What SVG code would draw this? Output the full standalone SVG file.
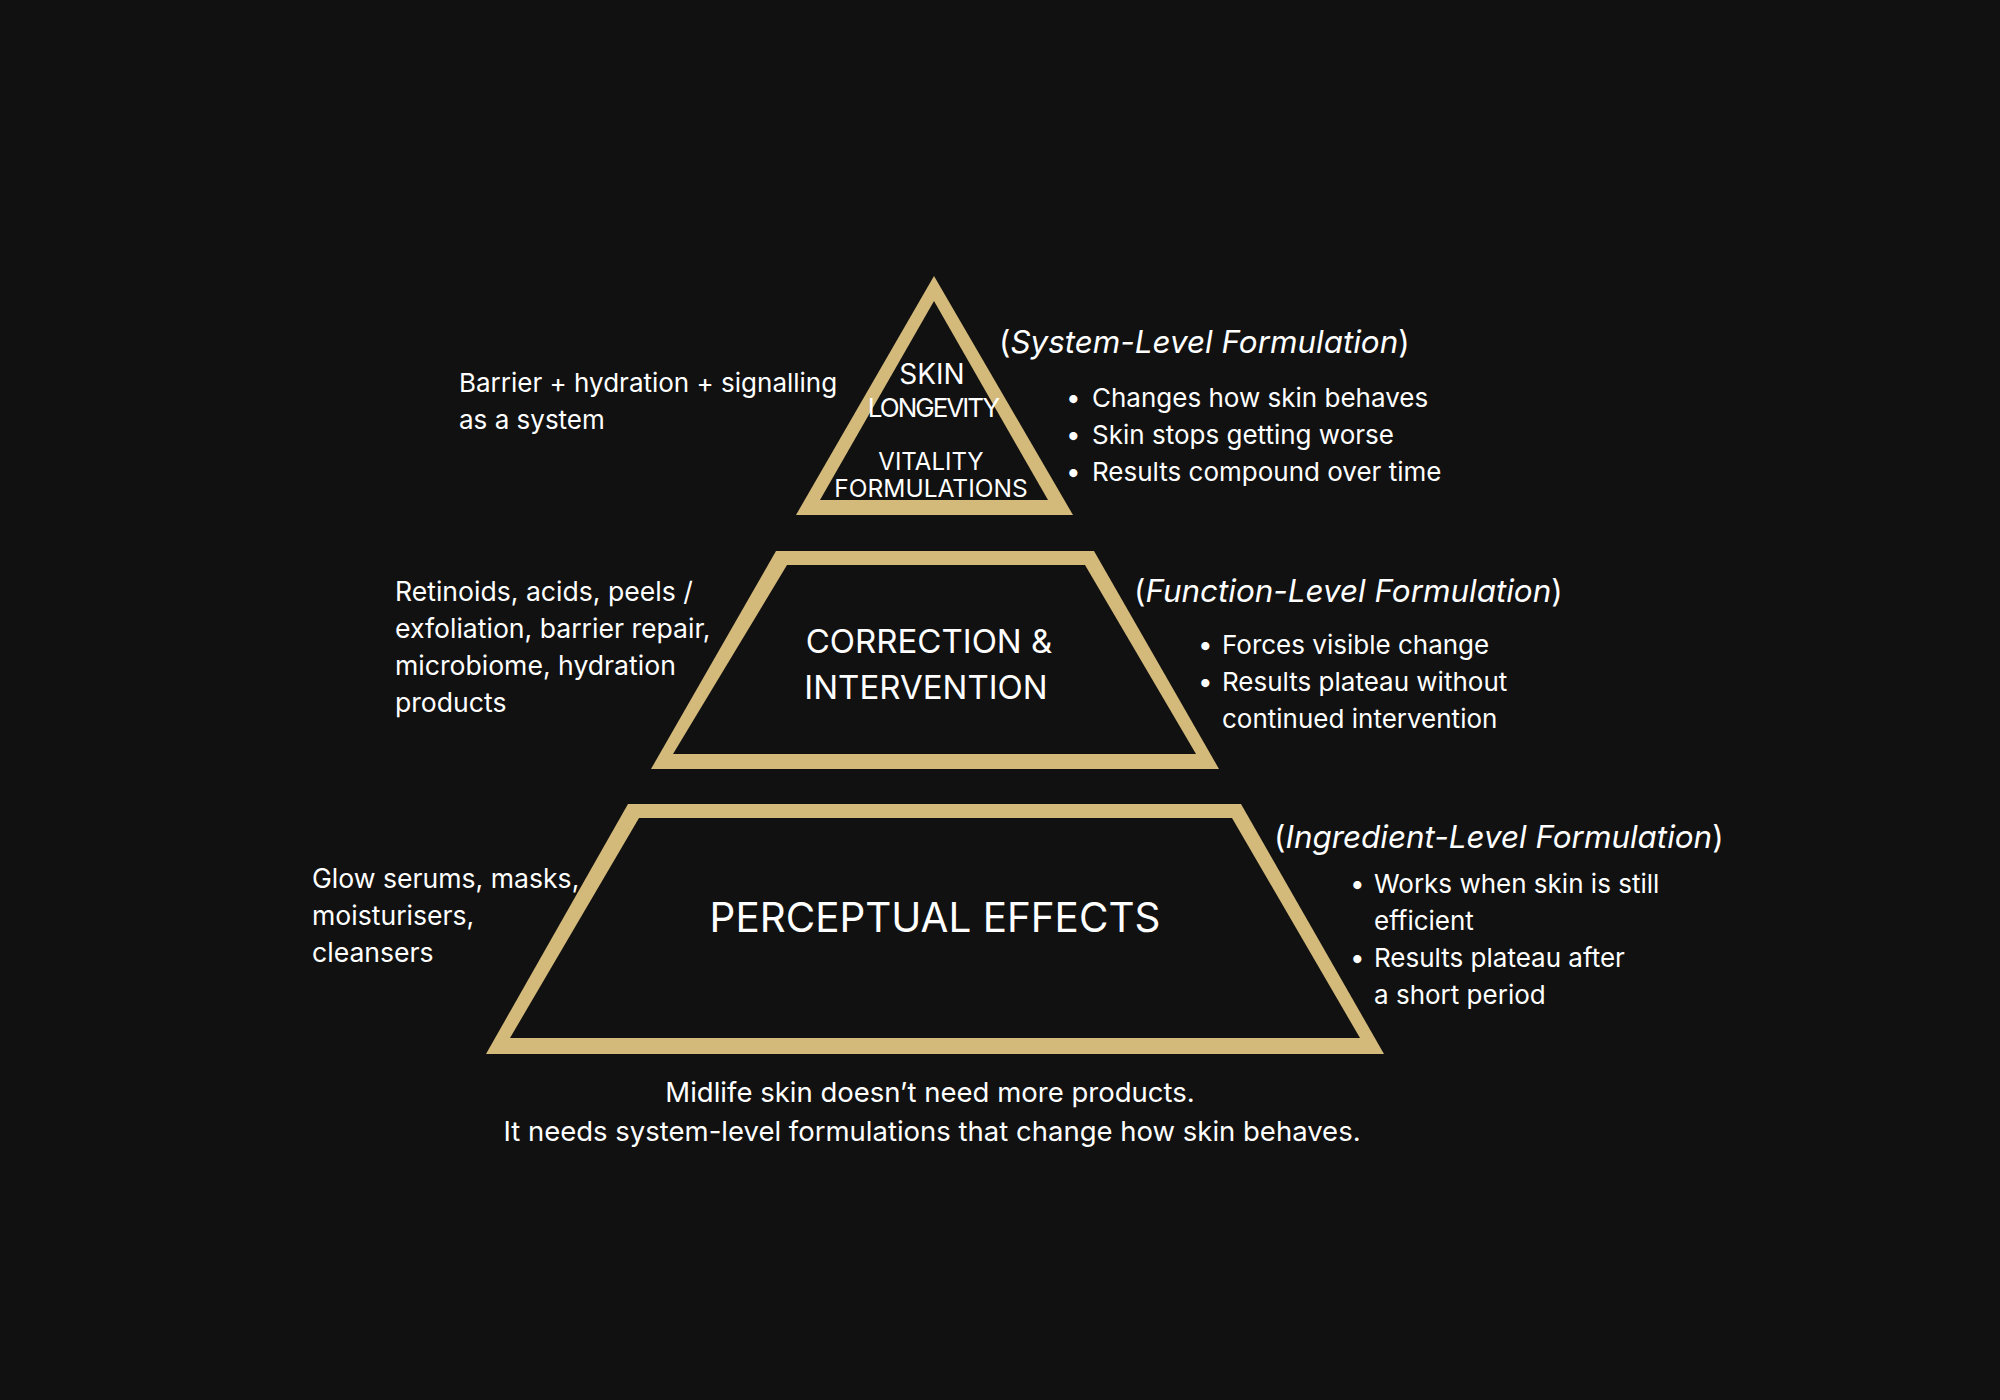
<svg xmlns="http://www.w3.org/2000/svg" width="2000" height="1400" viewBox="0 0 2000 1400">
<style>
.t{font-family:Inter,"Noto Sans","Liberation Sans",sans-serif;fill:#ffffff;}
.side{font-size:26px;}
.left{font-size:26.6px;}
.cap{font-size:27.5px;}
.head{font-size:31.4px;}
.it{font-style:italic;}
.gold{fill:#D4BA7A;}
.inner{fill:#111111;}
</style>
<rect width="2000" height="1400" fill="#111111"/>
<g id="tier-top">
<polygon class="gold" points="934,276 796,515 1073,515"/>
<polygon class="inner" points="934,301 820,500 1048,500"/>
<text class="t" x="932" y="384" font-size="28" text-anchor="middle">SKIN</text>
<text class="t" x="933" y="417" font-size="26" text-anchor="middle" letter-spacing="-2">LONGEVITY</text>
<text class="t" x="931" y="470" font-size="24" text-anchor="middle">VITALITY</text>
<text class="t" x="931" y="497" font-size="24.5" text-anchor="middle">FORMULATIONS</text>
</g>
<g id="tier-middle">
<polygon class="gold" points="776,551 1094,551 1219,769 651,769"/>
<polygon class="inner" points="787,565 1085,565 1196,754 673,754"/>
<text class="t" x="929" y="653" font-size="33" text-anchor="middle">CORRECTION &amp;</text>
<text class="t" x="926" y="699" font-size="33" text-anchor="middle">INTERVENTION</text>
</g>
<g id="tier-bottom">
<polygon class="gold" points="628,804 1241,804 1384,1054 486,1054"/>
<polygon class="inner" points="639,818 1232,818 1360,1038 510,1038"/>
<text class="t" x="935" y="932" font-size="40.4" text-anchor="middle">PERCEPTUAL EFFECTS</text>
</g>
<g id="label-top">
<text class="t head" x="999" y="353">(<tspan class="it">System-Level Formulation</tspan>)</text>
<text class="t side" x="1066" y="407">•</text>
<text class="t side" x="1092" y="407">Changes how skin behaves</text>
<text class="t side" x="1066" y="444">•</text>
<text class="t side" x="1092" y="444">Skin stops getting worse</text>
<text class="t side" x="1066" y="481">•</text>
<text class="t side" x="1092" y="481">Results compound over time</text>
<text class="t side" x="459" y="392">Barrier + hydration + signalling</text>
<text class="t side" x="459" y="429">as a system</text>
</g>
<g id="label-middle">
<text class="t head" x="1134" y="602">(<tspan class="it">Function-Level Formulation</tspan>)</text>
<text class="t side" x="1198" y="654">•</text>
<text class="t side" x="1222" y="654">Forces visible change</text>
<text class="t side" x="1198" y="691">•</text>
<text class="t side" x="1222" y="691">Results plateau without</text>
<text class="t side" x="1222" y="728">continued intervention</text>
<text class="t left" x="395" y="601">Retinoids, acids, peels /</text>
<text class="t left" x="395" y="638">exfoliation, barrier repair,</text>
<text class="t left" x="395" y="675">microbiome, hydration</text>
<text class="t left" x="395" y="712">products</text>
</g>
<g id="label-bottom">
<text class="t head" x="1274" y="848">(<tspan class="it">Ingredient-Level Formulation</tspan>)</text>
<text class="t side" x="1350" y="893">•</text>
<text class="t side" x="1374" y="893">Works when skin is still</text>
<text class="t side" x="1374" y="930">efficient</text>
<text class="t side" x="1350" y="967">•</text>
<text class="t side" x="1374" y="967">Results plateau after</text>
<text class="t side" x="1374" y="1004">a short period</text>
<text class="t left" x="312" y="888">Glow serums, masks,</text>
<text class="t left" x="312" y="925">moisturisers,</text>
<text class="t left" x="312" y="962">cleansers</text>
</g>
<g id="caption">
<text class="t cap" x="930" y="1102" text-anchor="middle">Midlife skin doesn’t need more products.</text>
<text class="t cap" x="932" y="1141" text-anchor="middle">It needs system-level formulations that change how skin behaves.</text>
</g>
<g id="connectors"></g>
</svg>
